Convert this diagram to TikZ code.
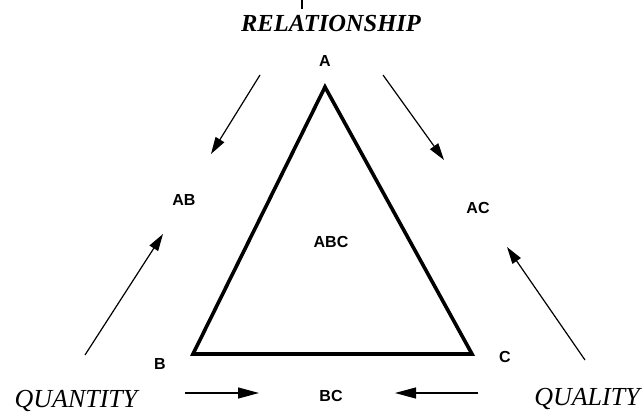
\documentclass[tikz,border=0pt]{standalone}
\usepackage{fontspec}
\setmainfont{Liberation Serif}
\newfontfamily\lblfont{Liberation Sans}
\usetikzlibrary{arrows.meta}
\begin{document}
\begin{tikzpicture}[x=1pt,y=-1pt,
  lbl/.style={font=\lblfont\bfseries\fontsize{16}{18}\selectfont, inner sep=0pt},
  big/.style={font=\itshape\fontsize{26}{30}\selectfont, inner sep=0pt},
  thinarrow/.style={line width=1.2pt, -{Triangle[length=17pt,width=10pt]}},
  flatarrow/.style={line width=1.2pt, -{Triangle[length=21pt,width=11pt]}}]
\useasboundingbox (0,0) rectangle (643,412);
% tick at top
\draw[line width=1.8pt] (302,0) -- (302,9);
% titles
\node[big, font=\bfseries\itshape\fontsize{24.5}{28}\selectfont] (rel) at (331,24) {RELATIONSHIP};
\node[big] (qty) at (76,401) {QUANTITY};
\node[big] (qly) at (587,399) {QUALITY};
% labels
\node[lbl] (A) at (325,61) {A};
\node[lbl] (B) at (160,364) {B};
\node[lbl] (C) at (505,357) {C};
\node[lbl] (AB) at (184,200) {AB};
\node[lbl] (AC) at (478,208) {AC};
\node[lbl] (BC) at (331,396) {BC};
\node[lbl] (ABC) at (331,242) {ABC};
% triangle
\coordinate (tA) at (325,87);
\coordinate (tB) at (193,354);
\coordinate (tC) at (472,354);
\draw[line width=3.6pt, line join=miter] (tA) -- (tB) -- (tC) -- cycle;
% arrows
\coordinate (a1s) at (260,75);  \coordinate (a1e) at (211,154);
\coordinate (a2s) at (383,75);  \coordinate (a2e) at (444,160);
\coordinate (a3s) at (85,355);  \coordinate (a3e) at (163,234);
\coordinate (a4s) at (585,360); \coordinate (a4e) at (507,247);
\coordinate (a5s) at (185,393); \coordinate (a5e) at (259,393);
\coordinate (a6s) at (478,393); \coordinate (a6e) at (395,393);
\draw[thinarrow] (a1s) -- (a1e);
\draw[thinarrow] (a2s) -- (a2e);
\draw[thinarrow] (a3s) -- (a3e);
\draw[thinarrow] (a4s) -- (a4e);
\draw[flatarrow] (a5s) -- (a5e);
\draw[flatarrow] (a6s) -- (a6e);
\end{tikzpicture}
\end{document}
